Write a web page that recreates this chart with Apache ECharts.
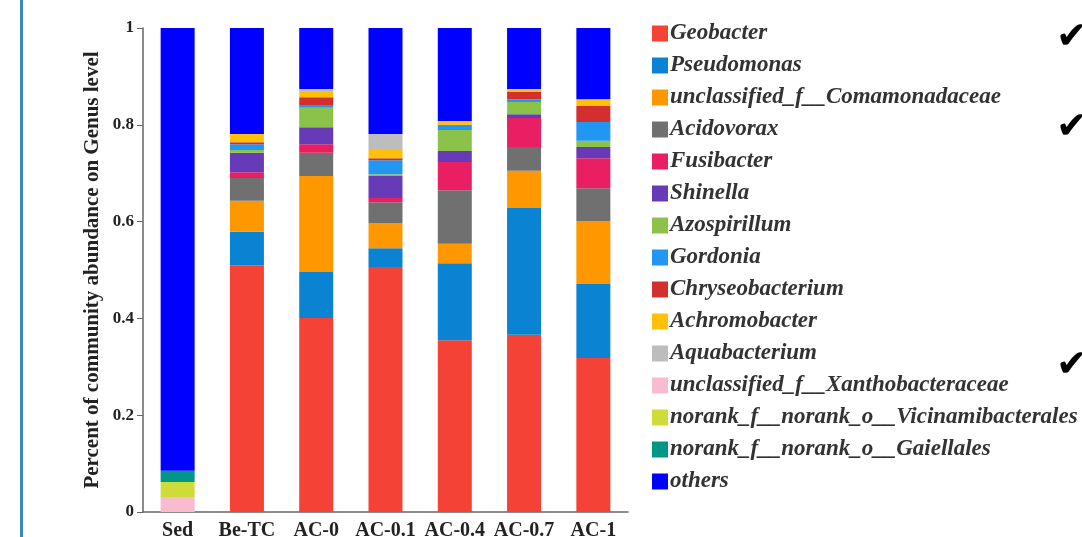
<!DOCTYPE html>
<html lang="en">
<head>
    <meta charset="UTF-8">
    <title>Genus level abundance</title>
    <script src="https://cdn.jsdelivr.net/npm/echarts@6/dist/echarts.min.js"></script>
    <style>
        html, body { margin: 0; padding: 0; background: #fff; }
        #chart { width: 1082px; height: 537px; }
    </style>
</head>
<body>
<div id="chart"></div>
<script type="text/javascript">
    // samples along the x axis
    var samples = ['Sed', 'Be-TC', 'AC-0', 'AC-0.1', 'AC-0.4', 'AC-0.7', 'AC-1'];

    // relative abundance per genus, one value per sample
    var geobacter        = [0,     0.510, 0.401, 0.506, 0.355, 0.366, 0.318];
    var pseudomonas      = [0,     0.069, 0.095, 0.039, 0.159, 0.262, 0.153];
    var comamonadaceae   = [0,     0.064, 0.198, 0.052, 0.040, 0.077, 0.130];
    var acidovorax       = [0,     0.047, 0.048, 0.043, 0.111, 0.049, 0.068];
    var fusibacter       = [0,     0.012, 0.018, 0.009, 0.058, 0.060, 0.062];
    var shinella         = [0,     0.040, 0.035, 0.045, 0.023, 0.008, 0.023];
    var azospirillum     = [0,     0.006, 0.040, 0.004, 0.043, 0.025, 0.013];
    var gordonia         = [0,     0.012, 0.006, 0.029, 0.009, 0.006, 0.039];
    var chryseobacterium = [0,     0.004, 0.016, 0.004, 0.002, 0.015, 0.033];
    var achromobacter    = [0,     0.017, 0.013, 0.019, 0.008, 0.006, 0.014];
    var aquabacterium    = [0,     0,     0.004, 0.031, 0,     0,     0];
    var xanthobacteraceae = [0.031, 0,    0,     0,     0,     0,     0];
    var vicinamibacterales = [0.031, 0,   0,     0,     0,     0,     0];
    var gaiellales       = [0.023, 0,     0,     0,     0,     0,     0];
    var others           = [0.915, 0.219, 0.126, 0.219, 0.192, 0.126, 0.147];

    var genusNames = [
        'Geobacter', 'Pseudomonas', 'unclassified_f__Comamonadaceae', 'Acidovorax',
        'Fusibacter', 'Shinella', 'Azospirillum', 'Gordonia', 'Chryseobacterium',
        'Achromobacter', 'Aquabacterium', 'unclassified_f__Xanthobacteraceae',
        'norank_f__norank_o__Vicinamibacterales', 'norank_f__norank_o__Gaiellales', 'others'
    ];
    var genusValues = [
        geobacter, pseudomonas, comamonadaceae, acidovorax, fusibacter, shinella,
        azospirillum, gordonia, chryseobacterium, achromobacter, aquabacterium,
        xanthobacteraceae, vicinamibacterales, gaiellales, others
    ];
    var genusColors = [
        '#f44336', '#0a84d2', '#ff9800', '#707070', '#e91e63', '#673ab7',
        '#8bc34a', '#2196f3', '#d32f2f', '#ffc107', '#bdbdbd', '#f8bbd0',
        '#cddc39', '#009688', '#0000ff'
    ];

    var serif = '"Liberation Serif", "Times New Roman", Times, serif';
    var check = '38px "DejaVu Sans"';

    var series = [];
    for (var i = 0; i < genusNames.length; i++) {
        series.push({
            name: genusNames[i],
            type: 'bar',
            stack: 'total',
            barWidth: 34,
            itemStyle: {color: genusColors[i]},
            emphasis: {disabled: true},
            data: genusValues[i]
        });
    }

    var myChart = echarts.init(document.getElementById('chart'), null, {renderer: 'canvas'});
    var option = {
        animation: false,
        color: genusColors,
        grid: {left: 143, right: 454, top: 28, bottom: 25, containLabel: false, outerBoundsMode: 'none'},
        legend: {
            orient: 'vertical',
            left: 647,
            top: 17,
            itemWidth: 16,
            itemHeight: 16,
            itemGap: 9,
            icon: 'rect',
            selectedMode: false,
            textStyle: {
                fontFamily: serif,
                fontStyle: 'italic',
                fontWeight: 'bold',
                fontSize: 23,
                lineHeight: 20,
                color: '#333',
                padding: [0, 0, 0, -3]
            },
            data: genusNames
        },
        xAxis: {
            type: 'category',
            data: samples,
            axisLine: {show: true, lineStyle: {color: '#666', width: 1.5}},
            axisTick: {show: false},
            axisLabel: {
                interval: 0,
                margin: 9,
                fontFamily: serif,
                fontWeight: 'bold',
                fontSize: 20,
                color: '#222'
            }
        },
        yAxis: {
            type: 'value',
            min: 0,
            max: 1,
            interval: 0.2,
            name: 'Percent of community abundance on Genus level',
            nameLocation: 'middle',
            nameGap: 40,
            nameTextStyle: {
                fontFamily: serif,
                fontWeight: 'bold',
                fontSize: 21,
                color: '#222'
            },
            axisLine: {show: true, lineStyle: {color: '#666', width: 1.5}},
            axisTick: {show: true, length: 6, lineStyle: {color: '#666'}},
            splitLine: {show: false},
            axisLabel: {
                margin: 9,
                fontFamily: serif,
                fontWeight: 'bold',
                fontSize: 17,
                color: '#222'
            }
        },
        graphic: [
            {type: 'rect', left: 20, top: 0, shape: {width: 3, height: 537}, style: {fill: '#3a87c2'}},
            {type: 'text', left: 1056, top: 19, style: {text: '\u2714', font: check, fill: '#000'}},
            {type: 'text', left: 1056, top: 109, style: {text: '\u2714', font: check, fill: '#000'}},
            {type: 'text', left: 1056, top: 347, style: {text: '\u2714', font: check, fill: '#000'}}
        ],
        series: series
    };
    myChart.setOption(option);
</script>
</body>
</html>
